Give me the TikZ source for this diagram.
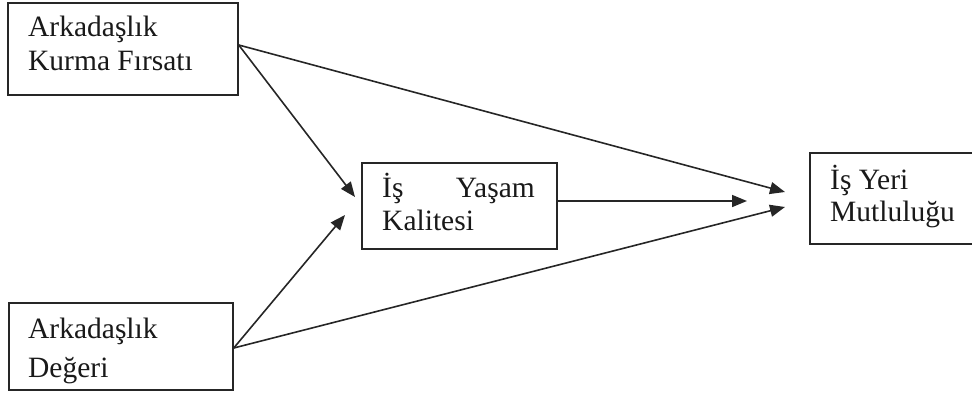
\documentclass[tikz,border=0pt]{standalone}
\usepackage{fontspec}
\setmainfont{Liberation Serif}
\usetikzlibrary{arrows.meta,calc}
\begin{document}
\begin{tikzpicture}[x=1pt,y=-1pt,
  box/.style={draw=black!85,line width=1.5pt,inner sep=0pt},
  lbl/.style={inner sep=0pt,anchor=base west,font=\fontsize{29.5}{34}\selectfont,text=black!90},
  lble/.style={lbl,anchor=base east},
  conn/.style={line width=1.6pt,draw=black!85,-{Triangle[length=15pt,width=12pt]}}]
\useasboundingbox (0,0) rectangle (972,394);
% boxes
\node[box,minimum width=230pt,minimum height=92pt] (b1) at (123,49) {};
\node[box,minimum width=224pt,minimum height=87pt] (b2) at (121,346.5) {};
\node[box,minimum width=195pt,minimum height=86pt] (b3) at (459.5,206) {};
\node[box,minimum width=180pt,minimum height=91pt] (b4) at (900,198.5) {};
% texts
\node[lbl] (t1a) at (28,36) {Arkadaşlık};
\node[lbl] (t1b) at (28,70) {Kurma Fırsatı};
\node[lbl] (t2a) at (28,338) {Arkadaşlık};
\node[lbl] (t2b) at (28,377) {Değeri};
\node[lbl] (t3a) at (382,197) {İş};
\node[lble] (t3b) at (535,197) {Yaşam};
\node[lbl] (t3c) at (382,230) {Kalitesi};
\node[lbl] (t4a) at (830,189) {İş Yeri};
\node[lbl] (t4b) at (830,221) {Mutluluğu};
% connector ends
\coordinate (e41) at (785,192);
\coordinate (e42) at (785,207);
\coordinate (e43) at (747,201);
\coordinate (e31) at (355,197);
\coordinate (e32) at (345,215);
% connectors
\draw[conn] ([yshift=4pt]b1.east) -- (e41);
\draw[conn] ([yshift=4pt]b1.east) -- (e31);
\draw[conn] ([yshift=-1.5pt]b2.east) -- (e32);
\draw[conn] ([yshift=-1.5pt]b2.east) -- (e42);
\draw[conn] ([yshift=5pt]b3.east) -- (e43);
\end{tikzpicture}
\end{document}
